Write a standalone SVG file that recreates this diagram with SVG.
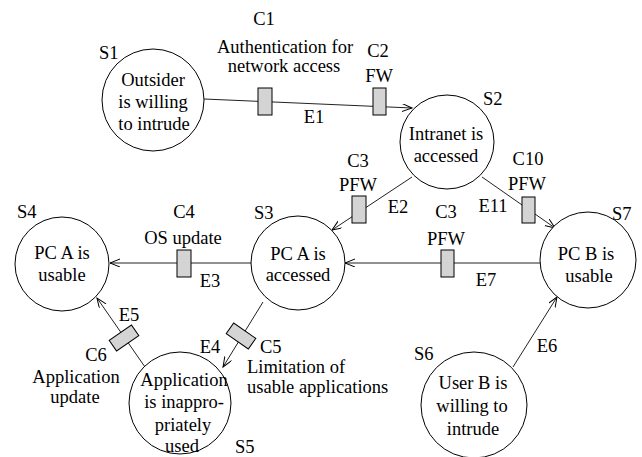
<svg xmlns="http://www.w3.org/2000/svg" width="642" height="457" viewBox="0 0 642 457" font-family="Liberation Serif, Times New Roman, DejaVu Serif, serif">
<style>
text{font-family:'Liberation Serif','DejaVu Serif',serif;font-size:18.5px;fill:#000}
.m{text-anchor:middle}
.node{fill:#fff;stroke:#000;stroke-width:1}
.edge{stroke:#222;stroke-width:1;fill:none;marker-end:url(#arr)}
.ctl{fill:#d4d4d4;stroke:#000;stroke-width:1}
</style>
<defs>
<marker id="arr" markerUnits="userSpaceOnUse" markerWidth="12" markerHeight="10" refX="10" refY="4" orient="auto">
<path d="M0,0 L10,4 L0,8" fill="none" stroke="#000" stroke-width="1"/>
</marker>
</defs>
<rect width="642" height="457" fill="#fff"/>

<g id="connectors">
<line class="edge" x1="204" y1="99" x2="412" y2="108"/>
<line class="edge" x1="412" y1="177" x2="332" y2="230"/>
<line class="edge" x1="482" y1="177" x2="555" y2="228"/>
<line class="edge" x1="252" y1="263" x2="110" y2="263"/>
<line class="edge" x1="542" y1="263" x2="345" y2="263"/>
<line class="edge" x1="263" y1="302" x2="223" y2="367"/>
<line class="edge" x1="145" y1="367" x2="97" y2="298"/>
<line class="edge" x1="513" y1="367" x2="557" y2="297"/>
</g>

<g id="controls">
<g id="C1"><rect class="ctl" x="258" y="88" width="14" height="27"/>
<text class="m" x="264" y="25">C1</text>
<text class="m" x="285" y="53">Authentication for</text>
<text class="m" x="284" y="72">network access</text></g>
<g id="C2"><rect class="ctl" x="373" y="88" width="13" height="27"/>
<text class="m" x="378" y="57">C2</text>
<text class="m" x="379" y="82">FW</text></g>
<g id="C3a"><rect class="ctl" x="352" y="196" width="14" height="27"/>
<text class="m" x="358" y="167">C3</text>
<text class="m" x="358" y="191">PFW</text></g>
<g id="C10"><rect class="ctl" x="522" y="197" width="13" height="26"/>
<text class="m" x="528" y="165">C10</text>
<text class="m" x="527" y="190">PFW</text></g>
<g id="C3b"><rect class="ctl" x="441" y="250" width="13" height="27"/>
<text class="m" x="446" y="218">C3</text>
<text class="m" x="446" y="245">PFW</text></g>
<g id="C4"><rect class="ctl" x="177" y="250" width="14" height="27"/>
<text class="m" x="184" y="218">C4</text>
<text class="m" x="183" y="244">OS update</text></g>
<g id="C5"><rect class="ctl" x="-13.5" y="-6.5" width="27" height="13" transform="translate(241,336) rotate(35)"/>
<text x="260" y="353">C5</text>
<text x="247" y="373">Limitation of</text>
<text x="247" y="393">usable applications</text></g>
<g id="C6"><rect class="ctl" x="-13.5" y="-6.5" width="27" height="13" transform="translate(124,338) rotate(-34.5)"/>
<text class="m" x="96" y="361">C6</text>
<text class="m" x="76" y="383">Application</text>
<text class="m" x="75" y="403">update</text></g>
</g>

<g id="edge-labels">
<text class="m" x="314" y="123">E1</text>
<text class="m" x="398" y="213">E2</text>
<text class="m" x="210" y="287">E3</text>
<text class="m" x="210" y="353">E4</text>
<text class="m" x="129" y="321">E5</text>
<text class="m" x="547" y="352">E6</text>
<text class="m" x="486" y="286">E7</text>
<text class="m" x="493" y="212">E11</text>
</g>

<g id="S1"><circle class="node" cx="153" cy="100" r="51"/>
<text x="99" y="59">S1</text>
<text class="m" x="153" y="86">Outsider</text>
<text class="m" x="153" y="108">is willing</text>
<text class="m" x="154" y="130">to intrude</text></g>
<g id="S2"><circle class="node" cx="447" cy="142" r="47"/>
<text x="483" y="105">S2</text>
<text class="m" x="446" y="140">Intranet is</text>
<text class="m" x="446" y="162">accessed</text></g>
<g id="S3"><circle class="node" cx="298" cy="263" r="47"/>
<text x="254" y="219">S3</text>
<text class="m" x="298" y="260">PC A is</text>
<text class="m" x="298" y="281">accessed</text></g>
<g id="S4"><circle class="node" cx="62" cy="264" r="47"/>
<text x="17" y="218">S4</text>
<text class="m" x="62" y="259">PC A is</text>
<text class="m" x="62" y="281">usable</text></g>
<g id="S5"><circle class="node" cx="180" cy="403" r="51"/>
<text x="235" y="453">S5</text>
<text class="m" x="184" y="386">Application</text>
<text class="m" x="184" y="408">is inappro-</text>
<text class="m" x="183" y="431">priately</text>
<text class="m" x="182" y="452">used</text></g>
<g id="S6"><circle class="node" cx="474" cy="405" r="53"/>
<text x="414" y="360">S6</text>
<text class="m" x="473" y="389">User B is</text>
<text class="m" x="472" y="412">willing to</text>
<text class="m" x="473" y="435">intrude</text></g>
<g id="S7"><circle class="node" cx="588" cy="260" r="48"/>
<text x="612" y="220">S7</text>
<text class="m" x="586" y="260">PC B is</text>
<text class="m" x="589" y="282">usable</text></g>
</svg>
